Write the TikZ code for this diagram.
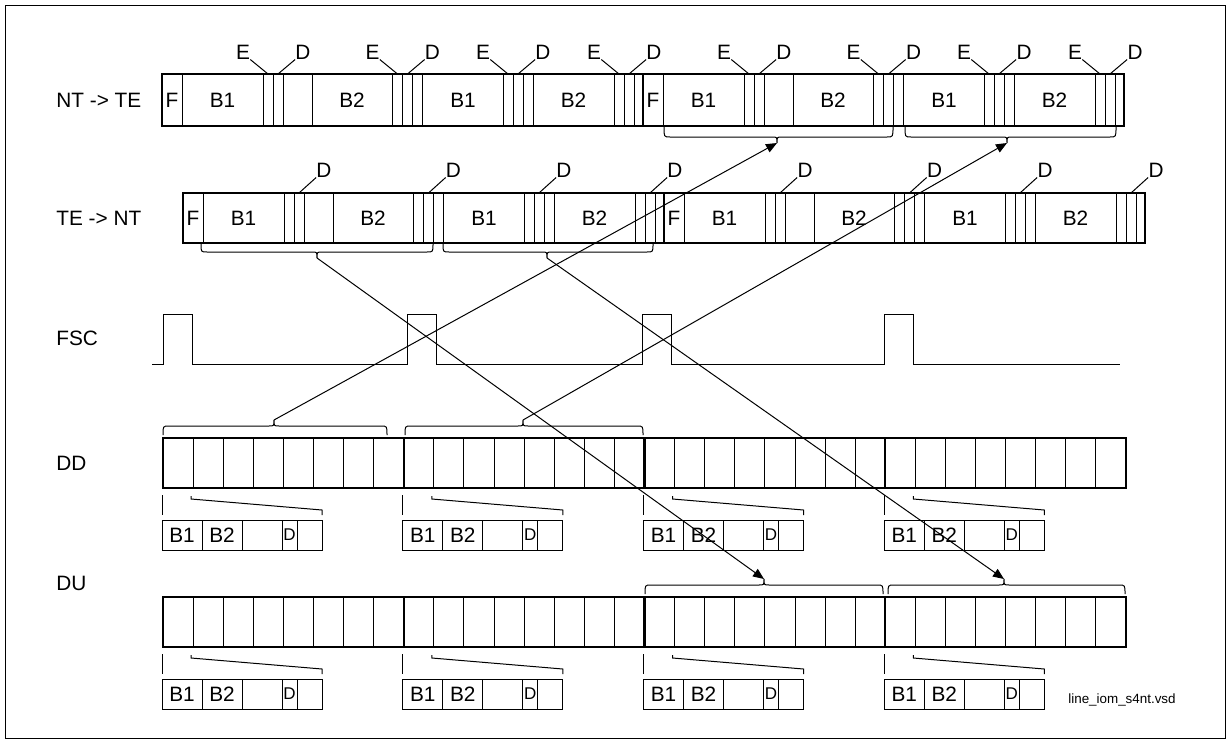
\documentclass[tikz,border=0pt]{standalone}
\usepackage{fontspec}
\setmainfont{Liberation Sans}
\usetikzlibrary{arrows.meta,calc}

% curly cap: ends a,b, tip at m; y0 = free ends, yh = bar, yt = tip
\newcommand\capbrace[6]{%
  \draw[sep] (#1,#4) .. controls (#1,#5) .. ({#1+6},#5) -- ({#2-5},#5)
    .. controls (#2,#5) .. (#2,#6) .. controls (#2,#5) .. ({#2+5},#5)
    -- ({#3-6},#5) .. controls (#3,#5) .. (#3,#4);}

\begin{document}
\begin{tikzpicture}[x=0.5pt,y=-0.5pt,
  frm/.style={line width=1.1pt},
  sep/.style={line width=0.5pt},
  lbl/.style={font=\fontsize{10.4}{12}\selectfont,inner sep=0pt},
  dlbl/.style={font=\fontsize{8.5}{10}\selectfont,inner sep=0pt},
  tip/.style={-{Triangle[length=5.5pt,width=4.5pt]},line width=0.5pt}]
  \useasboundingbox (0,0) rectangle (1231,744);
  \draw[sep] (5,5) rectangle (1225,738);

  % row names
  \node[lbl,anchor=west] (ntte) at (56,100) {NT -> TE};
  \node[lbl,anchor=west] (tent) at (56,218) {TE -> NT};
  \node[lbl,anchor=west] (fsc) at (56,338) {FSC};
  \node[lbl,anchor=west] (dd) at (56,463) {DD};
  \node[lbl,anchor=west] (du) at (56,583) {DU};

  % NT -> TE frames
  \foreach \s [count=\i] in {162,643} {
    \foreach \o in {20,101,111,121,150,230,240.5,250.5,260.5,341,351,361,371,452,462,472}
      \draw[sep] (\s+\o,74) -- (\s+\o,126);
    \draw[frm] (\s,74) rectangle (\s+481,126);
    \node[lbl] (ntF\i) at (\s+10,100) {F};
    \node[lbl] (ntBa\i) at (\s+60.5,100) {B1};
    \node[lbl] (ntBb\i) at (\s+190,100) {B2};
    \node[lbl] (ntBc\i) at (\s+301,100) {B1};
    \node[lbl] (ntBd\i) at (\s+411.5,100) {B2};
    \foreach \e [count=\j] in {106,235.5,346,457} {
      \node[lbl] (ntE\i\j) at (\s+\e-25,52) {E};
      \node[lbl] (ntD\i\j) at (\s+\e+35,52) {D};
      \coordinate (ntEc\i\j) at (\s+\e,74);
      \coordinate (ntDc\i\j) at (\s+\e+10,74);
      \draw[sep] (ntE\i\j.south east) -- (ntEc\i\j);
      \draw[sep] (ntD\i\j.south west) -- (ntDc\i\j);
    }
  }

  % TE -> NT frames
  \foreach \s [count=\i] in {183,664} {
    \foreach \o in {20,101,111,121,150,230,240.5,250.5,260.5,341,351,361,371,452,462,472}
      \draw[sep] (\s+\o,193) -- (\s+\o,243);
    \draw[frm] (\s,193) rectangle (\s+481,243);
    \node[lbl] (teF\i) at (\s+10,218) {F};
    \node[lbl] (teBa\i) at (\s+60.5,218) {B1};
    \node[lbl] (teBb\i) at (\s+190,218) {B2};
    \node[lbl] (teBc\i) at (\s+301,218) {B1};
    \node[lbl] (teBd\i) at (\s+411.5,218) {B2};
    \foreach \d [count=\j] in {116,245.5,356,467} {
      \node[lbl] (teD\i\j) at (\s+\d+25,170) {D};
      \coordinate (teDc\i\j) at (\s+\d,193);
      \draw[sep] (teD\i\j.south west) -- (teDc\i\j);
    }
  }

  % FSC
  \draw[sep] (152,364) \foreach \p in {163,407,642,884} {
    -- (\p,364) -- (\p,314) -- (\p+29,314) -- (\p+29,364)} -- (1120,364);

  % DD and DU
  \foreach \y/\row in {438/dd,597/du} {
    \foreach \s [count=\i] in {163,403.75,644.5,885.25} {
      \foreach \c in {1,...,7}
        \draw[sep] (\s+30.1*\c,\y) -- ++(0,50);
      \draw[sep] (\s-1,\y+57) -- ++(0,20);
      \draw[sep] (\s+28,\y+58) -- ++(0,3) -- (\s+159,\y+72) -- ++(0,5);
      \draw[sep] (\s-1,\y+82) rectangle (\s+159,\y+112);
      \foreach \o in {39,79,119,134}
        \draw[sep] (\s+\o,\y+82) -- ++(0,30);
      \node[lbl] (\row-b1-\i) at (\s+19,\y+97) {B1};
      \node[lbl] (\row-b2-\i) at (\s+59,\y+97) {B2};
      \node[dlbl] (\row-d-\i) at (\s+126.5,\y+97) {D};
    }
    \draw[frm] (163,\y) rectangle (1126,\y+50);
    \foreach \s in {403.75,644.5,885.25}
      \draw[frm] (\s,\y) -- ++(0,50);
  }

  % braces
  \capbrace{664}{777}{893}{127}{137}{143}
  \capbrace{905}{1007}{1116}{127}{137}{143}
  \capbrace{201}{317}{433}{244}{252}{258}
  \capbrace{443}{547}{653}{244}{252}{258}
  \capbrace{163}{274}{387}{435}{426}{420}
  \capbrace{405}{523}{643}{435}{426}{420}
  \capbrace{645}{764}{883}{594}{585}{579}
  \capbrace{888}{1004}{1125}{594}{585}{579}
  \coordinate (ntb1) at (777,143);
  \coordinate (ntb2) at (1007,143);
  \coordinate (teb1) at (317,258);
  \coordinate (teb2) at (547,258);
  \coordinate (ddb1) at (274,420);
  \coordinate (ddb2) at (523,420);
  \coordinate (dub1) at (764,579);
  \coordinate (dub2) at (1004,579);

  \draw[tip] (ddb1) -- (ntb1);
  \draw[tip] (ddb2) -- (ntb2);
  \draw[tip] (teb1) -- (dub1);
  \draw[tip] (teb2) -- (dub2);

  \node[font=\fontsize{6.7}{8}\selectfont,inner sep=0pt] (fname) at (1122,700) {line\_iom\_s4nt.vsd};
\end{tikzpicture}
\end{document}
